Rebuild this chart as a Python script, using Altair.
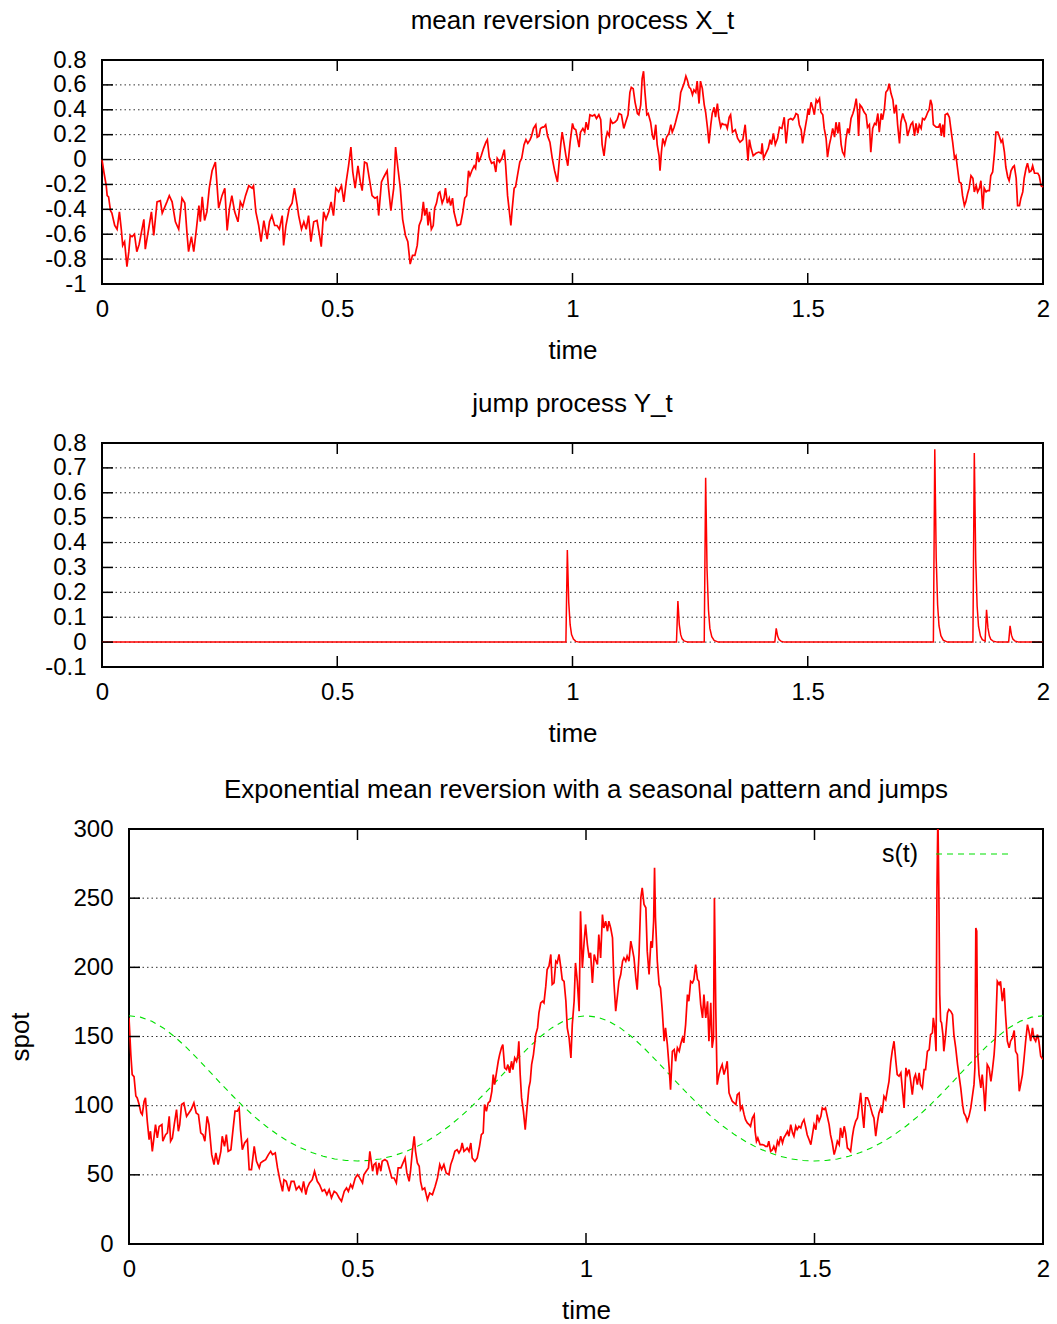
import altair as alt
import pandas as pd

FONT = "Liberation Sans"
FS = 26
LFS = 24
TICK = 11
RED = "#ff0000"
GREEN = "#00e000"

# ---------------- tick values ----------------
x_ticks = [0, 0.5, 1, 1.5, 2]
mr_yticks = [-1, -0.8, -0.6, -0.4, -0.2, 0, 0.2, 0.4, 0.6, 0.8]
jump_yticks = [-0.1, 0, 0.1, 0.2, 0.3, 0.4, 0.5, 0.6, 0.7, 0.8]
spot_yticks = [0, 50, 100, 150, 200, 250, 300]

# ---------------- mean reversion process X_t ----------------
mr_t = [
    0.000, 0.004, 0.009, 0.011, 0.014, 0.018, 0.021, 0.027, 0.032, 0.037, 0.041, 0.044, 0.048, 0.053, 0.057, 0.060, 0.064, 0.069, 0.074, 0.079,
    0.089, 0.092, 0.099, 0.105, 0.110, 0.117, 0.124, 0.128, 0.138, 0.143, 0.149, 0.156, 0.163, 0.170, 0.176, 0.181, 0.184, 0.190, 0.195, 0.200,
    0.206, 0.209, 0.213, 0.218, 0.223, 0.228, 0.234, 0.241, 0.248, 0.255, 0.261, 0.266, 0.271, 0.276, 0.282, 0.289, 0.294, 0.299, 0.305, 0.312,
    0.319, 0.322, 0.327, 0.333, 0.338, 0.344, 0.351, 0.356, 0.361, 0.367, 0.372, 0.377, 0.383, 0.386, 0.391, 0.398, 0.404, 0.409, 0.415, 0.418,
    0.424, 0.429, 0.434, 0.439, 0.444, 0.450, 0.457, 0.461, 0.466, 0.471, 0.476, 0.482, 0.487, 0.492, 0.497, 0.503, 0.509, 0.514, 0.519, 0.524,
    0.529, 0.533, 0.538, 0.544, 0.549, 0.553, 0.558, 0.563, 0.568, 0.574, 0.580, 0.585, 0.588, 0.594, 0.599, 0.606, 0.609, 0.614, 0.620, 0.624,
    0.629, 0.634, 0.639, 0.645, 0.650, 0.655, 0.660, 0.665, 0.670,
    0.674, 0.679, 0.683, 0.686, 0.690, 0.693, 0.696, 0.700, 0.704, 0.707, 0.711, 0.715, 0.718, 0.723, 0.727, 0.730, 0.734, 0.738, 0.741, 0.745,
    0.748, 0.755, 0.762, 0.767, 0.771, 0.775, 0.779, 0.782, 0.786, 0.791, 0.794, 0.798, 0.801, 0.806, 0.811, 0.816, 0.819, 0.823, 0.828, 0.833,
    0.837, 0.840, 0.845, 0.850, 0.855, 0.858, 0.862, 0.865, 0.869, 0.872, 0.876, 0.879, 0.883, 0.888, 0.892, 0.897, 0.901, 0.905, 0.910, 0.913,
    0.917, 0.922, 0.925, 0.929, 0.932, 0.936, 0.939, 0.943, 0.947, 0.952, 0.957, 0.962, 0.968, 0.971, 0.975, 0.978, 0.982, 0.986, 0.990, 0.995,
    1.000, 1.003, 1.007, 1.010, 1.014, 1.017, 1.022, 1.026, 1.029, 1.033, 1.037, 1.042, 1.047, 1.051, 1.056, 1.060, 1.063, 1.067, 1.071, 1.074,
    1.078, 1.081, 1.085, 1.090, 1.095, 1.099, 1.104, 1.109, 1.113, 1.118, 1.122, 1.125, 1.129, 1.133, 1.138, 1.141, 1.145, 1.148, 1.151, 1.154,
    1.158, 1.161, 1.166, 1.170, 1.173, 1.177, 1.180, 1.184, 1.186, 1.189, 1.192, 1.196, 1.200, 1.205, 1.209, 1.212, 1.216, 1.219, 1.223, 1.226,
    1.230, 1.234, 1.237, 1.241, 1.244, 1.248, 1.251, 1.255, 1.258, 1.262, 1.265, 1.269, 1.272, 1.276, 1.280, 1.283, 1.287, 1.290, 1.294, 1.297,
    1.301, 1.304, 1.308, 1.311, 1.315, 1.318, 1.322, 1.326, 1.329, 1.333, 1.336,
    1.340, 1.346, 1.351, 1.356, 1.362, 1.367, 1.370, 1.373, 1.376, 1.379, 1.384, 1.390, 1.396, 1.401, 1.403, 1.406, 1.411, 1.416, 1.420, 1.423,
    1.427, 1.431, 1.436, 1.440, 1.445, 1.450, 1.454, 1.459, 1.464, 1.468, 1.472, 1.475, 1.479, 1.482, 1.486, 1.489, 1.493, 1.498, 1.501, 1.503,
    1.507, 1.511, 1.514, 1.518, 1.521, 1.525, 1.528, 1.532, 1.535, 1.539, 1.542, 1.546, 1.549, 1.553, 1.557, 1.560, 1.564, 1.567, 1.571, 1.574,
    1.578, 1.581, 1.585, 1.588, 1.592, 1.596, 1.599, 1.603, 1.606, 1.608, 1.611, 1.615, 1.620, 1.624, 1.627, 1.631, 1.634, 1.638, 1.642, 1.645,
    1.649, 1.652, 1.656, 1.659, 1.663, 1.666, 1.670, 1.673, 1.677, 1.681, 1.684, 1.688, 1.691, 1.695, 1.698, 1.702, 1.705, 1.709, 1.712, 1.716,
    1.719, 1.723, 1.727, 1.730, 1.734, 1.737, 1.741, 1.744, 1.748, 1.751, 1.755, 1.758, 1.761, 1.764, 1.767, 1.773, 1.778, 1.781, 1.784, 1.787,
    1.790, 1.792, 1.797, 1.801, 1.804, 1.808, 1.812, 1.815, 1.819, 1.822, 1.826, 1.829, 1.833, 1.836, 1.840, 1.843, 1.847, 1.851, 1.854, 1.858,
    1.861, 1.865, 1.868, 1.872, 1.875, 1.879, 1.882, 1.886, 1.889, 1.893, 1.897, 1.900, 1.904, 1.907, 1.911, 1.914, 1.918, 1.921, 1.925, 1.928,
    1.932, 1.936, 1.939, 1.943, 1.946, 1.950, 1.953, 1.957, 1.960, 1.964, 1.967, 1.971, 1.975, 1.978, 1.982, 1.985, 1.989, 1.992, 1.996, 2.000,
]
mr_x = [
    0.00, -0.10, -0.21, -0.29, -0.30, -0.41, -0.43, -0.53, -0.56, -0.42, -0.56, -0.69, -0.66, -0.86, -0.74, -0.61, -0.62, -0.60, -0.74, -0.68,
    -0.48, -0.72, -0.56, -0.42, -0.61, -0.34, -0.33, -0.43, -0.34, -0.29, -0.34, -0.50, -0.56, -0.31, -0.35, -0.61, -0.74, -0.62, -0.74, -0.58,
    -0.37, -0.50, -0.30, -0.49, -0.42, -0.23, -0.09, -0.02, -0.39, -0.29, -0.23, -0.57, -0.39, -0.29, -0.42, -0.50, -0.34, -0.38, -0.29, -0.21,
    -0.23, -0.21, -0.42, -0.53, -0.66, -0.49, -0.64, -0.50, -0.45, -0.53, -0.53, -0.56, -0.45, -0.69, -0.53, -0.39, -0.35, -0.23, -0.37, -0.45,
    -0.56, -0.50, -0.56, -0.45, -0.66, -0.50, -0.49, -0.58, -0.70, -0.42, -0.48, -0.42, -0.34, -0.45, -0.23, -0.26, -0.21, -0.34, -0.18, -0.05,
    0.10, -0.10, -0.23, -0.05, -0.18, -0.25, -0.02, -0.03, -0.15, -0.29, -0.31, -0.30, -0.45, -0.18, -0.14, -0.09, -0.23, -0.41, -0.23, 0.10,
    -0.07, -0.23, -0.48, -0.61, -0.66, -0.84, -0.77, -0.77, -0.69,
    -0.53, -0.48, -0.34, -0.45, -0.39, -0.53, -0.42, -0.56, -0.53, -0.39, -0.35, -0.27, -0.26, -0.35, -0.31, -0.23, -0.35, -0.31, -0.37, -0.31,
    -0.42, -0.53, -0.52, -0.42, -0.31, -0.29, -0.09, -0.13, -0.09, -0.05, -0.07, 0.06, -0.02, 0.03, 0.09, 0.14, 0.16, 0.02, -0.03, -0.02,
    -0.10, 0.01, -0.02, 0.01, 0.08, -0.05, -0.29, -0.39, -0.53, -0.39, -0.23, -0.22, -0.13, -0.02, 0.01, 0.12, 0.16, 0.13, 0.16, 0.19,
    0.25, 0.28, 0.18, 0.19, 0.25, 0.26, 0.26, 0.28, 0.19, 0.14, 0.01, -0.09, -0.18, -0.05, 0.12, 0.22, 0.13, 0.03, -0.05, 0.14,
    0.29, 0.25, 0.24, 0.18, 0.10, 0.22, 0.25, 0.22, 0.30, 0.24, 0.36, 0.35, 0.36, 0.33, 0.36, 0.32, 0.12, 0.03, 0.17, 0.22,
    0.19, 0.32, 0.29, 0.30, 0.32, 0.37, 0.36, 0.25, 0.30, 0.36, 0.54, 0.58, 0.57, 0.46, 0.37, 0.36, 0.44, 0.65, 0.71, 0.54,
    0.36, 0.37, 0.30, 0.19, 0.16, 0.28, 0.12, 0.03, -0.09, 0.06, 0.17, 0.12, 0.18, 0.21, 0.28, 0.22, 0.26, 0.30, 0.36, 0.40,
    0.54, 0.58, 0.61, 0.67, 0.64, 0.58, 0.57, 0.52, 0.56, 0.54, 0.63, 0.45, 0.63, 0.57, 0.44, 0.38, 0.25, 0.13, 0.28, 0.37,
    0.42, 0.34, 0.45, 0.34, 0.26, 0.29, 0.28, 0.28, 0.25, 0.34, 0.36,
    0.22, 0.24, 0.17, 0.14, 0.16, 0.28, 0.14, -0.01, 0.16, 0.10, 0.03, 0.05, 0.06, 0.05, 0.13, 0.01, 0.05, 0.09, 0.16, 0.12,
    0.21, 0.12, 0.17, 0.26, 0.25, 0.34, 0.13, 0.32, 0.33, 0.32, 0.34, 0.37, 0.36, 0.28, 0.24, 0.13, 0.22, 0.33, 0.41, 0.36,
    0.46, 0.41, 0.36, 0.48, 0.46, 0.49, 0.38, 0.36, 0.25, 0.17, 0.02, 0.12, 0.17, 0.25, 0.18, 0.30, 0.21, 0.30, 0.12, 0.06,
    0.03, 0.16, 0.25, 0.21, 0.33, 0.37, 0.41, 0.49, 0.38, 0.19, 0.44, 0.42, 0.38, 0.36, 0.26, 0.28, 0.06, 0.25, 0.29, 0.28,
    0.37, 0.22, 0.37, 0.32, 0.41, 0.54, 0.56, 0.61, 0.53, 0.48, 0.37, 0.44, 0.28, 0.13, 0.30, 0.37, 0.33, 0.29, 0.19, 0.24,
    0.28, 0.30, 0.19, 0.29, 0.21, 0.28, 0.25, 0.33, 0.32, 0.34, 0.38, 0.40, 0.48, 0.44, 0.28, 0.26, 0.26, 0.29, 0.19, 0.28,
    0.18, 0.36, 0.37, 0.34, 0.25, 0.14, 0.01, 0.03, -0.09, -0.18, -0.19, -0.29, -0.37, -0.34, -0.27, -0.23, -0.13, -0.15, -0.26, -0.21,
    -0.26, -0.23, -0.17, -0.40, -0.23, -0.26, -0.25, -0.25, -0.13, -0.10, 0.06, 0.22, 0.22, 0.19, 0.14, 0.16, 0.06, -0.06, -0.14, -0.17,
    -0.09, -0.06, -0.05, -0.15, -0.37, -0.37, -0.31, -0.26, -0.15, -0.07, -0.03, -0.10, -0.09, -0.05, -0.11, -0.11, -0.11, -0.13, -0.21, -0.22,
]

# ---------------- jump process Y_t ----------------
jump_t = [
    0.000, 0.986, 0.989, 0.992, 0.995, 0.998, 1.002, 1.007, 1.014,
    1.221, 1.224, 1.227, 1.230, 1.233, 1.237, 1.245,
    1.280, 1.283, 1.286, 1.289, 1.292, 1.296, 1.301, 1.310,
    1.430, 1.433, 1.436, 1.439, 1.443, 1.450,
    1.767, 1.770, 1.773, 1.776, 1.779, 1.783, 1.788, 1.797,
    1.851, 1.854, 1.857, 1.860, 1.863, 1.867, 1.871, 1.877,
    1.880, 1.883, 1.886, 1.889, 1.894, 1.903,
    1.927, 1.930, 1.933, 1.936, 1.940, 1.948, 2.000,
]
jump_y = [
    0, 0, 0.37, 0.16, 0.07, 0.03, 0.012, 0.003, 0,
    0, 0.165, 0.07, 0.03, 0.013, 0.005, 0,
    0, 0.66, 0.29, 0.13, 0.055, 0.022, 0.007, 0,
    0, 0.055, 0.024, 0.01, 0.004, 0,
    0, 0.775, 0.34, 0.15, 0.065, 0.026, 0.008, 0,
    0, 0.76, 0.33, 0.145, 0.063, 0.025, 0.01, 0.004,
    0.13, 0.057, 0.025, 0.011, 0.004, 0,
    0, 0.065, 0.028, 0.012, 0.005, 0, 0,
]

# ---------------- spot price ----------------
spot_t = [
    0.000, 0.004, 0.007, 0.011, 0.015, 0.018, 0.022, 0.026, 0.029, 0.033, 0.036, 0.040, 0.044, 0.047, 0.051, 0.055, 0.058, 0.062, 0.066, 0.072,
    0.074, 0.080, 0.084, 0.088, 0.091, 0.095, 0.099, 0.104, 0.108, 0.111, 0.115, 0.120, 0.126, 0.131, 0.136, 0.142, 0.147, 0.152, 0.157, 0.162,
    0.166, 0.171, 0.175, 0.181, 0.186, 0.190, 0.195, 0.201, 0.204, 0.209, 0.213, 0.217, 0.223, 0.228, 0.232, 0.237, 0.241, 0.244, 0.248, 0.253,
    0.259, 0.263, 0.268, 0.274, 0.279, 0.285, 0.288, 0.293, 0.299, 0.305, 0.310, 0.314, 0.320, 0.325, 0.330, 0.336, 0.339, 0.344, 0.350, 0.355,
    0.361, 0.366, 0.372, 0.378, 0.382, 0.387, 0.390, 0.395, 0.401, 0.406, 0.412, 0.417, 0.423, 0.428, 0.433, 0.438, 0.443, 0.449, 0.454, 0.460,
    0.465, 0.471, 0.476, 0.480, 0.485, 0.489, 0.495, 0.500, 0.503, 0.511, 0.514, 0.519, 0.524, 0.527, 0.533, 0.536, 0.540, 0.543, 0.547, 0.551,
    0.554, 0.560, 0.565, 0.570, 0.575, 0.580, 0.585, 0.589, 0.595, 0.598, 0.604, 0.608, 0.613, 0.616, 0.620, 0.624, 0.627, 0.631, 0.635, 0.638,
    0.642, 0.647, 0.653, 0.658, 0.664, 0.670,
    0.675, 0.680, 0.684, 0.689, 0.694, 0.700, 0.704, 0.709, 0.713, 0.718, 0.722, 0.726, 0.729, 0.733, 0.737, 0.740, 0.744, 0.748, 0.751, 0.757,
    0.762, 0.767, 0.771, 0.775, 0.778, 0.782, 0.786, 0.790, 0.794, 0.797, 0.800, 0.804, 0.808, 0.811, 0.815, 0.818, 0.822, 0.826, 0.829, 0.833,
    0.837, 0.840, 0.844, 0.848, 0.851, 0.853, 0.856, 0.859, 0.863, 0.867, 0.871, 0.875, 0.878, 0.881, 0.885, 0.890, 0.894, 0.897, 0.901, 0.905,
    0.908, 0.912, 0.915, 0.919, 0.923, 0.926, 0.930, 0.934, 0.937, 0.941, 0.945, 0.948, 0.952, 0.956, 0.959, 0.963, 0.967, 0.970, 0.974, 0.977,
    0.981, 0.985, 0.988, 0.992, 0.996, 0.999, 1.003, 1.007, 1.010, 1.014, 1.018, 1.021, 1.025, 1.028, 1.032, 1.036, 1.039, 1.043, 1.047, 1.050,
    1.054, 1.058, 1.061, 1.065, 1.069, 1.072, 1.076, 1.080, 1.083, 1.087, 1.090, 1.094, 1.098, 1.101, 1.105, 1.109, 1.112, 1.116, 1.120, 1.123,
    1.127, 1.131, 1.134, 1.138, 1.142, 1.145, 1.148, 1.150, 1.152, 1.156, 1.160, 1.163, 1.167, 1.171, 1.174, 1.178, 1.182, 1.185, 1.189, 1.193,
    1.196, 1.200, 1.204, 1.207, 1.211, 1.214, 1.218, 1.222, 1.225, 1.229, 1.233, 1.236, 1.240, 1.244, 1.247, 1.251, 1.255, 1.258, 1.262, 1.266,
    1.269, 1.273, 1.276, 1.279, 1.281, 1.284, 1.287, 1.291, 1.295, 1.298, 1.302, 1.306, 1.309, 1.313, 1.317, 1.320,
    1.328, 1.331, 1.335, 1.338, 1.342, 1.346, 1.349, 1.353, 1.357, 1.360, 1.364, 1.368, 1.370, 1.373, 1.376, 1.381, 1.386, 1.390, 1.393, 1.397,
    1.400, 1.404, 1.408, 1.411, 1.415, 1.419, 1.422, 1.426, 1.430, 1.433, 1.437, 1.441, 1.444, 1.448, 1.452, 1.455, 1.459, 1.462, 1.466, 1.470,
    1.473, 1.477, 1.481, 1.484, 1.488, 1.492, 1.495, 1.499, 1.503, 1.506, 1.510, 1.514, 1.517, 1.521, 1.524, 1.528, 1.532, 1.535, 1.539, 1.543,
    1.546, 1.550, 1.554, 1.557, 1.561, 1.565, 1.568, 1.572, 1.576, 1.579, 1.583, 1.586, 1.590, 1.594, 1.597, 1.601, 1.605, 1.608, 1.612, 1.616,
    1.619, 1.623, 1.627, 1.630, 1.634, 1.638, 1.641, 1.645, 1.648, 1.652, 1.656, 1.659, 1.663, 1.667, 1.670, 1.674, 1.678, 1.681, 1.685, 1.689,
    1.692, 1.696, 1.700, 1.703, 1.707, 1.710, 1.714, 1.718, 1.721, 1.725, 1.729, 1.732, 1.736, 1.740, 1.743, 1.747, 1.751, 1.754, 1.758, 1.760,
    1.763, 1.766, 1.768, 1.770, 1.772, 1.774, 1.776, 1.778, 1.781, 1.783, 1.787, 1.791, 1.794, 1.798, 1.802, 1.805, 1.809, 1.813, 1.816, 1.820,
    1.824, 1.827, 1.831, 1.834, 1.838, 1.842, 1.845, 1.849, 1.851, 1.853, 1.855, 1.857, 1.860, 1.864, 1.867, 1.871, 1.873, 1.876, 1.878, 1.882,
    1.886, 1.889, 1.893, 1.896, 1.900, 1.904, 1.907, 1.911, 1.915, 1.918, 1.922, 1.926, 1.929, 1.933, 1.937, 1.940, 1.944, 1.948, 1.951, 1.955,
    1.958, 1.962, 1.966, 1.969, 1.973, 1.977, 1.980, 1.984, 1.988, 1.991, 1.995, 2.000,
]
spot_v = [
    163.5, 137, 122.5, 121, 107, 105.6, 101, 95, 93.5, 103, 105.6, 88.7, 75.5, 81.5, 67, 78, 86.3, 76.7, 85, 86.3,
    74.3, 79, 80.3, 92.3, 74.3, 76.7, 86.3, 97.2, 81.5, 86.3, 100.8, 102, 92.3, 94.7, 97.2, 102, 94.7, 93.5, 80.3, 79,
    74.3, 92.3, 86.3, 64.6, 57.4, 65.8, 57.4, 67, 77.9, 70.6, 79, 67, 68.2, 83.9, 96, 96, 98.4, 82.7, 68.2, 73,
    75.5, 53.8, 53.8, 70.6, 59.8, 55, 58.6, 59.8, 61, 64.6, 67, 64.6, 65.8, 55, 46.5, 38.1, 46.5, 45.3, 38.1, 45.3,
    45.3, 39.3, 41.7, 38.1, 45.3, 35.7, 40.5, 44.1, 46.5, 52.6, 45.3, 42.9, 38.1, 39.3, 35.7, 39.3, 33.3, 38.1, 36.9, 33.3,
    30.9, 38.1, 40.5, 38.1, 42.9, 40.5, 47.7, 50.1, 48.9, 44.1, 50.1, 52.6, 55, 67, 52.6, 57.4, 58.6, 50.1, 58.6, 52.6,
    59.8, 61, 59.8, 53.8, 47.7, 47.7, 44.1, 55, 55, 57.4, 62.2, 51.4, 45.3, 52.6, 67, 77.9, 67, 58.6, 56.2, 45.3,
    39.3, 40.5, 32.1, 36.9, 35.7, 41.7,
    47.7, 57.4, 53.8, 57.4, 51.4, 50.1, 57.4, 62.2, 67, 68.2, 65.8, 68.2, 73, 67, 68.2, 69.4, 67, 73, 62.2, 59.8,
    62.2, 70.6, 79, 80.3, 100.8, 96, 102, 103.2, 110.4, 122.5, 115.2, 123.7, 132.1, 136.9, 141.8, 144.2, 127.3, 126.1, 129.7, 123.7,
    132.1, 126.1, 134.5, 132.1, 136.9, 146.6, 122.5, 105.6, 96, 82.7, 98.4, 112.8, 117.6, 129.7, 136.9, 151.4, 156.2, 167.1, 174.3, 175.5,
    174.3, 186.4, 198.4, 200.8, 209.3, 187.6, 188.8, 204.4, 203.2, 209.3, 199.6, 191.2, 189.9, 175.5, 156.2, 149, 134.5, 158.6, 175.5, 203.2,
    189.9, 168.3, 240.6, 199.6, 218.9, 231, 216.5, 206.8, 210.5, 188.8, 209.3, 205.6, 202, 223.7, 206.8, 238.2, 228.5, 233.4, 226.1, 233.4,
    228.5, 221.3, 189.9, 168.3, 180.3, 189.9, 194.8, 204.4, 206.8, 204.4, 208.1, 204.4, 218.9, 214.1, 206.8, 192.4, 183.9, 209.3, 250.2, 257.5,
    245.4, 243, 211.7, 194.8, 218.9, 214.1, 233.4, 271.9, 235.8, 204.4, 187.6, 185.1, 168.3, 146.6, 156.2, 144.2, 127.3, 111.6, 139.3, 140.6,
    132.1, 141.8, 139.3, 144.2, 149, 145.4, 158.6, 180.3, 175.5, 189.9, 188.8, 191.2, 202, 191.2, 189.9, 173.1, 163.5, 180.3, 163.5, 175.5,
    146.6, 174.3, 141.8, 149, 250.2, 170, 115.2, 122.5, 127.3, 129.7, 122.5, 127.3, 132.1, 109.2, 105.6, 103.2,
    100.8, 108, 109.2, 97.2, 99.6, 93.5, 89.9, 87.5, 86.3, 85.1, 91.1, 93.5, 81.5, 74.3, 76.7, 71.8, 71.8, 71.4, 70.6, 70.6,
    74.3, 67, 68.2, 70.6, 67, 74.3, 71.8, 77.9, 73, 76.7, 79, 81.5, 77.9, 86.3, 80.3, 77.9, 85.1, 82.7, 85.1, 83.9,
    87.5, 89.9, 83.9, 79, 75.5, 71.8, 77.9, 86.3, 82.7, 93.5, 88.7, 92.3, 98.4, 97.2, 98.4, 92.3, 86.3, 79, 73, 64.6,
    68.2, 74.3, 71.8, 83.9, 76.7, 85.1, 80.3, 69.4, 68.2, 67, 77.9, 83.9, 88.7, 91.1, 98.4, 109.2, 93.5, 83.9, 105.6, 105.6,
    103.2, 98.4, 93.5, 91.1, 77.9, 88.7, 94.7, 98.4, 94.7, 106.8, 104.4, 110.4, 117.6, 132.1, 139.3, 146.6, 132.1, 122.5, 121.3, 123.7,
    112.8, 98.4, 127.3, 122.5, 126.1, 118.9, 108, 120, 122.5, 115.2, 123.7, 115.2, 112.8, 126.1, 126.1, 139.3, 140.6, 151.4, 152.6, 163.5,
    156.2, 139.3, 257.5, 310, 257.5, 180.3, 161.1, 160, 151.4, 139.3, 151.4, 167.1, 169.5, 168.3, 165.9, 151.4, 141.8, 129.7, 122.5, 112.8,
    100.8, 94.7, 92.3, 88.7, 92.3, 98.4, 105.6, 115.2, 127.3, 228.5, 226.1, 139.3, 122.5, 112.8, 122.5, 108, 96, 115.2, 129.7, 127.3,
    117.6, 124.9, 136.9, 151.4, 189.9, 187.6, 189.9, 175.5, 185.1, 165.9, 146.6, 141.8, 146.6, 149, 154.3, 139.3, 136.9, 110.4, 115.2, 122.5,
    132.1, 146.6, 158.6, 154.3, 146.6, 156.2, 149, 146.6, 151.4, 146.6, 135.7, 133.3,
]

# ---------------- seasonal level s(t) ----------------
season_t = [
    0.000, 0.025, 0.050, 0.075, 0.100, 0.125, 0.150, 0.175, 0.200, 0.225, 0.250, 0.275, 0.300, 0.325, 0.350, 0.375, 0.400, 0.425, 0.450, 0.475,
    0.500, 0.525, 0.550, 0.575, 0.600, 0.625, 0.650, 0.675, 0.700, 0.725, 0.750, 0.775, 0.800, 0.825, 0.850, 0.875, 0.900, 0.925, 0.950, 0.975,
    1.000, 1.025, 1.050, 1.075, 1.100, 1.125, 1.150, 1.175, 1.200, 1.225, 1.250, 1.275, 1.300, 1.325, 1.350, 1.375, 1.400, 1.425, 1.450, 1.475,
    1.500, 1.525, 1.550, 1.575, 1.600, 1.625, 1.650, 1.675, 1.700, 1.725, 1.750, 1.775, 1.800, 1.825, 1.850, 1.875, 1.900, 1.925, 1.950, 1.975,
    2.000,
]
season_v = [
    165.0, 164.0, 161.0, 156.2, 149.8, 142.3, 133.9, 125.2, 116.3, 107.7, 99.5, 91.9, 85.1, 79.1, 73.9, 69.6, 66.1, 63.4, 61.5, 60.4,
    60.0, 60.4, 61.5, 63.4, 66.1, 69.6, 73.9, 79.1, 85.1, 91.9, 99.5, 107.7, 116.3, 125.2, 133.9, 142.3, 149.8, 156.2, 161.0, 164.0,
    165.0, 164.0, 161.0, 156.2, 149.8, 142.3, 133.9, 125.2, 116.3, 107.7, 99.5, 91.9, 85.1, 79.1, 73.9, 69.6, 66.1, 63.4, 61.5, 60.4,
    60.0, 60.4, 61.5, 63.4, 66.1, 69.6, 73.9, 79.1, 85.1, 91.9, 99.5, 107.7, 116.3, 125.2, 133.9, 142.3, 149.8, 156.2, 161.0, 164.0,
    165.0,
]

assert len(mr_t) == len(mr_x)
assert len(jump_t) == len(jump_y)
assert len(spot_t) == len(spot_v)
assert len(season_t) == len(season_v)

# ---------------- layout sizes ----------------
W12, H12 = 941, 224
W3, H3 = 914, 415

xscale = alt.Scale(domain=[0, 2], nice=False, zero=False)


def x_axis():
    return alt.Axis(values=x_ticks, title="time", labelExpr="'' + datum.value",
                    ticks=False, domain=False, grid=False, labelPadding=13,
                    titlePadding=16, labelFlush=False, labelOverlap=False, labelBound=False,
                    labelFontSize=LFS, titleFontSize=FS)


def y_axis(ticks, min_extent, title=None, title_padding=0):
    kw = dict(values=ticks, labelExpr="'' + datum.value", ticks=False, domain=False,
              grid=False, labelPadding=16, labelOverlap=False, labelFlush=False,
              labelBound=False, minExtent=min_extent, labelFontSize=LFS, titleFontSize=FS)
    if title:
        kw["title"] = title
        kw["titlePadding"] = title_padding
    else:
        kw["title"] = None
    return alt.Axis(**kw)


def frame(yticks, yscale, W, H):
    ydf = pd.DataFrame({"v": yticks})
    gdf = pd.DataFrame({"v": yticks[1:-1]})
    xdf = pd.DataFrame({"t": x_ticks})
    grid = alt.Chart(gdf).mark_rule(color="#333333", strokeWidth=1, strokeDash=[1.5, 3]).encode(
        y=alt.Y("v:Q", scale=yscale, axis=None), x=alt.value(0), x2=alt.value(W))
    tick_style = dict(color="black", strokeWidth=1.5)
    lt = alt.Chart(ydf).mark_rule(**tick_style).encode(
        y=alt.Y("v:Q", scale=yscale, axis=None), x=alt.value(0), x2=alt.value(TICK))
    rt = alt.Chart(ydf).mark_rule(**tick_style).encode(
        y=alt.Y("v:Q", scale=yscale, axis=None), x=alt.value(W - TICK), x2=alt.value(W))
    bt = alt.Chart(xdf).mark_rule(**tick_style).encode(
        x=alt.X("t:Q", scale=xscale, axis=None), y=alt.value(H - TICK), y2=alt.value(H))
    tt = alt.Chart(xdf).mark_rule(**tick_style).encode(
        x=alt.X("t:Q", scale=xscale, axis=None), y=alt.value(0), y2=alt.value(TICK))
    return grid, [lt, rt, bt, tt]


def title(text):
    return alt.TitleParams(text=text, offset=14, fontSize=FS, font=FONT,
                           fontWeight="normal", anchor="middle", frame="group", color="black")


# ---------- panel 1 ----------
ys1 = alt.Scale(domain=[-1, 0.8], nice=False, zero=False)
g1, t1 = frame(mr_yticks, ys1, W12, H12)
line1 = alt.Chart(pd.DataFrame({"t": mr_t, "x": mr_x})).mark_line(color=RED, strokeWidth=1.7).encode(
    x=alt.X("t:Q", scale=xscale, axis=x_axis()),
    y=alt.Y("x:Q", scale=ys1, axis=y_axis(mr_yticks, 95)))
p1 = alt.layer(g1, line1, *t1).resolve_axis(x="independent", y="independent").properties(
    width=W12, height=H12, title=title("mean reversion process X_t"))

# ---------- panel 2 ----------
ys2 = alt.Scale(domain=[-0.1, 0.8], nice=False, zero=False)
g2, t2 = frame(jump_yticks, ys2, W12, H12)
line2 = alt.Chart(pd.DataFrame({"t": jump_t, "y": jump_y})).mark_line(color=RED, strokeWidth=1.5).encode(
    x=alt.X("t:Q", scale=xscale, axis=x_axis()),
    y=alt.Y("y:Q", scale=ys2, axis=y_axis(jump_yticks, 95)))
p2 = alt.layer(g2, line2, *t2).resolve_axis(x="independent", y="independent").properties(
    width=W12, height=H12, title=title("jump process Y_t"))

# ---------- panel 3 ----------
ys3 = alt.Scale(domain=[0, 300], nice=False, zero=False)
g3, t3 = frame(spot_yticks, ys3, W3, H3)
season = alt.Chart(pd.DataFrame({"t": season_t, "s": season_v})).mark_line(
    color=GREEN, strokeWidth=1.1, strokeDash=[6, 5]).encode(
    x=alt.X("t:Q", scale=xscale, axis=None),
    y=alt.Y("s:Q", scale=ys3, axis=None))
line3 = alt.Chart(pd.DataFrame({"t": spot_t, "v": spot_v})).mark_line(
    color=RED, strokeWidth=1.7, clip=True).encode(
    x=alt.X("t:Q", scale=xscale, axis=x_axis()),
    y=alt.Y("v:Q", scale=ys3, axis=y_axis(spot_yticks, 60, title="spot", title_padding=36)))
legend_df = pd.DataFrame({"label": ["s(t)"]})
leg_text = alt.Chart(legend_df).mark_text(align="right", baseline="middle", fontSize=25,
                                          font=FONT, color="black").encode(
    text="label:N", x=alt.value(789), y=alt.value(25))
leg_line = alt.Chart(legend_df).mark_rule(color=GREEN, strokeWidth=1.1, strokeDash=[6, 5]).encode(
    x=alt.value(807), x2=alt.value(882), y=alt.value(25))
p3 = alt.layer(g3, season, line3, *t3, leg_text, leg_line).resolve_axis(
    x="independent", y="independent").properties(
    width=W3, height=H3,
    title=title("Exponential mean reversion with a seasonal pattern and jumps"))

# invisible 1px spacer: placing it left of each panel lets each panel's
# plot area sit right after its own y-axis (as in the original figure)
spacer = alt.Chart(pd.DataFrame({"a": [0]})).mark_point(opacity=0).encode(
    x=alt.value(0), y=alt.value(0)
).properties(width=1, height=1, view=alt.ViewBackground(stroke="transparent"))

row1 = alt.hconcat(spacer, p1, spacing=0)
row2 = alt.hconcat(spacer, p2, spacing=0)
row3 = alt.hconcat(spacer, p3, spacing=0)

top = alt.vconcat(row1, row2, spacing=26)
chart = alt.vconcat(top, row3, spacing=29).properties(
    padding={"left": -2, "top": 7, "right": 0, "bottom": 0}
).configure_view(
    stroke="black", strokeWidth=2
).configure_axis(
    labelFont=FONT, titleFont=FONT,
    labelColor="black", titleColor="black", titleFontWeight="normal"
).configure_title(
    font=FONT, fontSize=FS, fontWeight="normal", color="black"
)

chart.save("out.html", embed_options={"renderer": "svg", "actions": False})
